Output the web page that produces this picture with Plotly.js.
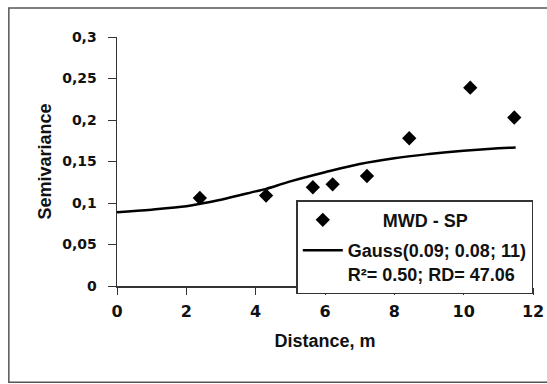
<!DOCTYPE html>
<html><head><meta charset="utf-8">
<script src="https://cdn.plot.ly/plotly-3.0.1.min.js"></script>
<style>html,body{margin:0;padding:0;background:#fff}#chart{width:547px;height:384px}</style>
</head><body><div id="chart"></div>
<script>
var distance = [2.39, 4.30, 5.65, 6.22, 7.21, 8.43, 10.19, 11.46];
var semivariance = [0.106, 0.109, 0.119, 0.1225, 0.1325, 0.178, 0.239, 0.203];
var modelDistance = [0, 1, 2, 2.4, 3, 4, 4.3, 5, 6, 7, 8, 9, 10, 11, 11.5];
var modelValue = [0.089, 0.092, 0.096, 0.099, 0.104, 0.114, 0.117, 0.126, 0.137, 0.147, 0.154, 0.159, 0.163, 0.166, 0.167];
var xTicks = [0, 2, 4, 6, 8, 10, 12];
var xTickText = ['0', '2', '4', '6', '8', '10', '12'];
var yTicks = [0, 0.05, 0.1, 0.15, 0.2, 0.25, 0.3];
var yTickText = ['0', '0,05', '0,1', '0,15', '0,2', '0,25', '0,3'];

var sans = 'Liberation Sans, Arial, sans-serif';
var wide = 'DejaVu Sans, sans-serif';

var traces = [
  {x: distance, y: semivariance, type: 'scatter', mode: 'markers', legendgroup: 'a',
   name: '<b>\u00a0\u00a0\u00a0\u00a0\u00a0\u00a0\u00a0MWD - SP</b>',
   marker: {symbol: 'diamond', size: 11, color: '#000'}},
  {x: modelDistance, y: modelValue, type: 'scatter', mode: 'lines', legendgroup: 'b',
   line: {shape: 'spline', color: '#000', width: 2.5},
   name: '<b>Gauss(0.09; 0.08; 11)<br>R²= 0.50; RD= 47.06</b>'}
];

var layout = {
  width: 547, height: 384,
  margin: {l: 117, r: 14, t: 37, b: 98, autoexpand: false},
  paper_bgcolor: '#fff', plot_bgcolor: '#fff',
  font: {family: sans, color: '#111', size: 14},
  showlegend: true,
  legend: {x: 0.431, y: 0.345, xanchor: 'left', yanchor: 'top', bgcolor: '#fff', valign: 'top',
           bordercolor: '#333', borderwidth: 1.5, font: {size: 18, family: sans, color: '#111'},
           tracegroupgap: 4, itemwidth: 40},
  xaxis: {range: [0, 12], tickvals: xTicks, ticktext: xTickText, showgrid: false, zeroline: false,
          showline: true, linecolor: '#333', linewidth: 1.5, ticks: 'outside', ticklen: 7, tickcolor: '#333',
          tickfont: {size: 16, family: wide, weight: 700, color: '#111'}, ticklabelstandoff: 3,
          title: {text: '<b>Distance, m</b>', font: {size: 18, family: sans}, standoff: 14}},
  yaxis: {range: [0, 0.3], tickvals: yTicks, ticktext: yTickText, showgrid: false, zeroline: false,
          showline: true, linecolor: '#333', linewidth: 1.5, ticks: 'outside', ticklen: 8, tickcolor: '#333',
          tickfont: {size: 14, family: wide, weight: 700, color: '#111'}, ticklabelstandoff: 8,
          title: {text: '<b>Semivariance</b>', font: {size: 18, family: sans}, standoff: 6}},
  shapes: [{type: 'rect', xref: 'paper', yref: 'paper', x0: -0.260, x1: 1.1, y0: -0.387, y1: 1.116,
            line: {color: '#555', width: 1.5}, fillcolor: 'rgba(0,0,0,0)'}]
};
Plotly.newPlot('chart', traces, layout, {displayModeBar: false, staticPlot: true});
</script></body></html>
